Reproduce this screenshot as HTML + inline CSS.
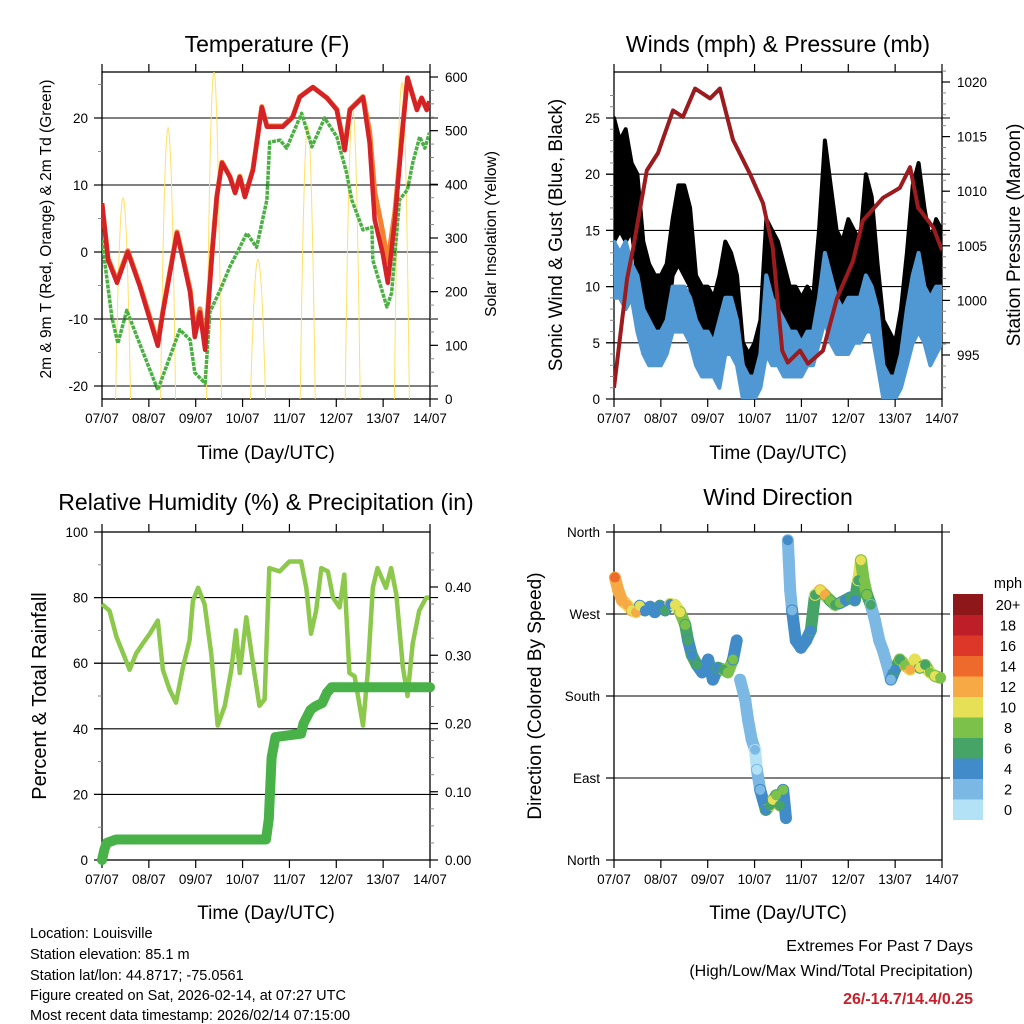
<!DOCTYPE html>
<html><head><meta charset="utf-8">
<style>
html,body{margin:0;padding:0;background:#fff}
svg{display:block}
text{font-family:"Liberation Sans",sans-serif;fill:#000}
</style></head>
<body>
<svg id="c" width="1024" height="1024" viewBox="0 0 1024 1024" xmlns="http://www.w3.org/2000/svg">
<rect width="1024" height="1024" fill="#fff"/>
<text x="267" y="52" font-size="23" text-anchor="middle">Temperature (F)</text>
<text x="778" y="52" font-size="23" text-anchor="middle">Winds (mph) &amp; Pressure (mb)</text>
<text x="266" y="510" font-size="23" text-anchor="middle">Relative Humidity (%) &amp; Precipitation (in)</text>
<text x="778" y="505" font-size="23" text-anchor="middle">Wind Direction</text>
<text x="266" y="459" font-size="19" text-anchor="middle">Time (Day/UTC)</text>
<text x="778" y="459" font-size="19" text-anchor="middle">Time (Day/UTC)</text>
<text x="266" y="919" font-size="19" text-anchor="middle">Time (Day/UTC)</text>
<text x="778" y="919" font-size="19" text-anchor="middle">Time (Day/UTC)</text>
<text transform="translate(51,229) rotate(-90)" font-size="15.5" text-anchor="middle">2m &amp; 9m T (Red, Orange) &amp; 2m Td (Green)</text>
<text transform="translate(496,234) rotate(-90)" font-size="15.5" text-anchor="middle">Solar Insolation (Yellow)</text>
<text transform="translate(562,235) rotate(-90)" font-size="19" text-anchor="middle">Sonic Wind &amp; Gust (Blue, Black)</text>
<text transform="translate(1020,235) rotate(-90)" font-size="19" text-anchor="middle">Station Pressure (Maroon)</text>
<text transform="translate(46,696) rotate(-90)" font-size="20" text-anchor="middle">Percent &amp; Total Rainfall</text>
<text transform="translate(541,696) rotate(-90)" font-size="19" text-anchor="middle">Direction (Colored By Speed)</text>
<g font-size="14.5">
<text x="30" y="938">Location: Louisville</text>
<text x="30" y="959">Station elevation: 85.1 m</text>
<text x="30" y="980">Station lat/lon: 44.8717; -75.0561</text>
<text x="30" y="1000">Figure created on Sat, 2026-02-14, at 07:27 UTC</text>
<text x="30" y="1020">Most recent data timestamp: 2026/02/14 07:15:00</text>
</g>
<text x="973" y="951" font-size="16" text-anchor="end">Extremes For Past 7 Days</text>
<text x="973" y="976" font-size="16" text-anchor="end">(High/Low/Max Wind/Total Precipitation)</text>
<text x="973" y="1004" font-size="16" font-weight="bold" text-anchor="end" style="fill:#c8202a">26/-14.7/14.4/0.25</text>
</svg>
<script>
const dayLabels=["07/07","08/07","09/07","10/07","11/07","12/07","13/07","14/07"];
const tRedDays=[0,.13,.32,.55,.81,1.19,1.30,1.60,1.73,1.88,1.98,2.09,2.20,2.35,2.45,2.56,2.73,2.84,2.94,3.05,3.22,3.41,3.52,3.86,4.07,4.22,4.50,4.80,5.01,5.18,5.29,5.57,5.71,5.82,5.99,6.10,6.25,6.42,6.52,6.72,6.82,6.93,6.99];
const tRed=[7.3,-1.2,-4.6,0,-5.2,-14,-9,2.8,-1.2,-6,-12.7,-9,-14.6,-0.2,8.2,13.3,11.2,8.8,11.2,8.2,12.2,21.6,18.7,18.7,20.1,23.1,24.6,23,21.2,15.2,21.2,23.1,16.3,4.8,-0.2,-4.6,4.8,18.7,26,21.2,23,21.2,22.5];
const tOrange=[7.3,-1.0,-4.3,0.2,-5,-13.6,-8.8,3,-1,-5.6,-12,-8.5,-13.8,0,8.3,13.4,11.3,8.9,11.3,8.3,12.3,21.7,18.8,18.8,20.2,23.2,24.6,23,21.3,15.4,21.3,23.2,18,9,3,-1.5,6,18.8,26,21.3,23,21.3,22.5];
const tDewDays=[0,.21,.34,.53,.75,1.19,1.66,1.88,1.98,2.20,2.30,2.52,2.73,2.94,3.09,3.30,3.52,3.58,3.80,3.94,4.26,4.48,4.75,5.01,5.22,5.33,5.57,5.76,5.78,6.08,6.18,6.35,6.52,6.63,6.78,6.89,6.99];
const tDew=[1.8,-9.7,-13.6,-8.7,-12.7,-20.6,-11.6,-13.1,-18,-19.6,-9,-5.7,-2.2,0.7,2.8,0.7,7.8,16.4,16.7,15.5,20.7,15.7,20,17.2,11.8,7.8,3.3,3.7,-1.2,-8.2,-6.1,7.8,9.3,13.3,17.2,15.5,17.8];
const solarPeakDays=[0.45,1.41,2.39,3.33,4.39,5.35,6.40];
const solarPeaks=[375,505,610,260,510,540,590];
const presDays=[0,.28,.41,.70,.94,1.26,1.47,1.73,2.05,2.26,2.54,2.90,3.18,3.39,3.59,3.71,3.97,4.14,4.46,4.76,5.10,5.31,5.74,6.10,6.32,6.49,6.81,7.0];
const pres=[992,1002,1004.8,1011.9,1013.5,1017.4,1016.8,1019.4,1018.5,1019.4,1014.7,1011.6,1008.9,1004.8,995.4,994.3,995.4,994.2,995.4,1000.2,1003.6,1007.3,1009.4,1010.3,1012.2,1008.5,1006.7,1004.6];
const windDays=[0,0.125,0.25,0.375,0.5,0.625,0.75,0.875,1,1.125,1.25,1.375,1.5,1.625,1.75,1.875,2,2.125,2.25,2.375,2.5,2.625,2.75,2.875,3,3.125,3.25,3.375,3.5,3.625,3.75,3.875,4,4.125,4.25,4.375,4.5,4.625,4.75,4.875,5,5.125,5.25,5.375,5.5,5.625,5.75,5.875,6,6.125,6.25,6.375,6.5,6.625,6.75,6.875,7];
const gustHi=[25,23,24,21,20,14,12,11,11,12,16,19,19,17,11,10,10,9,11,14,13,11,5,4,5,7,16,15,14,12,10,10,9,10,9,15,23,19,15,14,16,15,14,20,18,12,7,6,5,8,13,19,21,17,14,16,15];
const gustLo=[14,15,14,15,11,8,6,5,5,6,11,12,11,10,6,5,4,5,4,8,8,6,1,0,0,2,7,6,6,5,4,4,4,4,4,8,12,9,7,7,7,8,8,9,9,6,3,2,2,3,5,9,10,8,7,8,9];
const windHi=[14,13,14,12,11,8,7,6,6,7,10,10,10,9,7,6,6,5,7,9,9,7,3,2,2,4,11,9,8,7,6,6,5,6,6,9,13,11,9,8,9,9,9,11,10,8,3,2,2,4,8,11,13,10,9,10,10];
const windLo=[9,9,8,9,6,4,3,3,3,4,6,6,6,5,3,2,2,2,1,4,4,3,0,0,0,1,4,3,3,2,2,2,2,3,3,5,7,5,4,4,4,5,5,6,6,3,0,0,0,1,3,5,6,5,3,4,5];
const rhDays=[0,.16,.31,.45,.59,.73,.87,1.02,1.19,1.30,1.44,1.58,1.73,1.87,1.94,2.05,2.19,2.33,2.47,2.62,2.76,2.86,2.94,3.08,3.22,3.36,3.47,3.57,3.79,4.00,4.25,4.36,4.46,4.57,4.68,4.82,4.93,5.07,5.17,5.28,5.39,5.57,5.67,5.78,5.88,6.06,6.17,6.28,6.42,6.52,6.63,6.77,6.92,6.99];
const rh=[78,76,68,63,58,63,66,69,73,58,52,48,59,67,79,83,78,63,41,47,58,70,57,74,60,47,49,89,88,91,91,83,69,76,89,88,80,77,87,57,56,41,57,83,89,83,89,81,59,50,66,76,80,80];
const rainDays=[0,0.05,0.1,0.3,3.5,3.56,3.62,3.7,4.25,4.3,4.45,4.55,4.7,4.8,4.9,7.0];
const rain=[0,0.015,0.025,0.03,0.03,0.06,0.15,0.18,0.185,0.2,0.22,0.225,0.23,0.245,0.253,0.253];
const dirDays=[0.02,0.09,0.17,0.28,0.38,0.47,0.55,0.66,0.77,0.87,0.98,1.09,1.20,1.30,1.41,1.52,1.58,1.66,1.77,1.88,2.01,2.11,2.22,2.33,2.43,2.54,2.62,2.69,2.80,2.86,2.94,3.01,3.05,3.12,3.18,3.24,3.33,3.39,3.46,3.54,3.61,3.67,3.71,3.73,3.76,3.80,3.88,3.99,4.10,4.20,4.29,4.40,4.50,4.61,4.72,4.82,4.93,5.04,5.14,5.21,5.27,5.33,5.40,5.48,5.57,5.66,5.74,5.83,5.91,6.00,6.10,6.21,6.32,6.42,6.53,6.64,6.74,6.85,6.96];
const dirDeg=[310,296,285,280,274,272,279,274,278,272,279,274,281,280,272,258,241,225,214,206,220,198,211,209,206,220,241,198,176,154,132,121,99,77,66,55,60,66,71,60,77,46,351,329,296,274,241,233,241,252,291,296,291,285,280,282,285,288,285,307,329,307,291,280,263,241,230,214,198,209,220,214,209,220,211,214,206,202,200];
const dirSpd=[14,12,12,11,10,12,10,4,4,4,4,5,4,9,10,8,6,4,6,4,4,4,4,6,8,8,4,2,2,2,2,2,0,2,4,4,6,10,8,6,8,4,4,2,2,2,4,4,4,4,6,10,12,8,6,8,4,6,4,6,10,8,8,6,2,2,2,2,2,4,6,8,12,10,10,6,8,10,8];
const cbLabels=["0","2","4","6","8","10","12","14","16","18","20+"];
const cbColors=["#b3e2f7","#7cb8e4","#418bc8","#45a466","#7cc24a","#e5e056","#f6aa45","#ee6a2c","#dd3729","#bd1e27","#8e1719"];

const svg=document.getElementById('c');
const NS="http://www.w3.org/2000/svg";
function mk(tag,attrs,parent){const e=document.createElementNS(NS,tag);for(const k in attrs)e.setAttribute(k,attrs[k]);(parent||svg).appendChild(e);return e;}
function lin(d0,d1,r0,r1){return v=>r0+(v-d0)/(d1-d0)*(r1-r0);}
function pathFrom(xs,ys,fx,fy){return xs.map((d,i)=>(i?'L':'M')+fx(d).toFixed(1)+' '+fy(ys[i]).toFixed(1)).join('');}

function frame(name,L,R,T,B,fx,leftTicks,leftMinor,fyL,leftLab,rightTicks,rightMinor,fyR,rightLab,grid){
  const g=mk('g',{});
  
  
  grid.forEach(v=>{const y=fyL(v);mk('line',{x1:L-8,x2:R+8,y1:y,y2:y,stroke:'#000','stroke-width':1.1},g);});
  mk('rect',{x:L,y:T,width:R-L,height:B-T,fill:'none',stroke:'#000','stroke-width':1.3},g);
  for(let d=0;d<=7;d++){const x=fx(d);
    mk('line',{x1:x,x2:x,y1:B,y2:B+8,stroke:'#000','stroke-width':1.2},g);
    mk('line',{x1:x,x2:x,y1:T,y2:T-8,stroke:'#000','stroke-width':1.2},g);
    const t=mk('text',{x:x,y:B+24,'font-size':13.5,'text-anchor':'middle'},g);t.textContent=dayLabels[d];
  }
  leftMinor.forEach(v=>{const y=fyL(v);mk('line',{x1:L-4,x2:L,y1:y,y2:y,stroke:'#888','stroke-width':1},g);});
  leftTicks.forEach((v,i)=>{const y=fyL(v);mk('line',{x1:L-8,x2:L,y1:y,y2:y,stroke:'#000','stroke-width':1.2},g);
    const t=mk('text',{x:L-14,y:y+5,'font-size':13.5,'text-anchor':'end'},g);t.textContent=leftLab[i];});
  if(fyR){
    rightMinor.forEach(v=>{const y=fyR(v);mk('line',{x1:R,x2:R+4,y1:y,y2:y,stroke:'#888','stroke-width':1},g);});
    rightTicks.forEach((v,i)=>{const y=fyR(v);mk('line',{x1:R,x2:R+8,y1:y,y2:y,stroke:'#000','stroke-width':1.2},g);
      const t=mk('text',{x:R+15,y:y+5,'font-size':13.5,'text-anchor':'start'},g);t.textContent=rightLab[i];});
  }
  return g;
}
function rng(a,b,s){const r=[];for(let v=a;v<=b+1e-9;v+=s)r.push(+v.toFixed(4));return r;}

// ---- Panel 1 Temperature
{
const L=102,R=430,T=72,B=399;
const fx=lin(0,7,L,R), fy=lin(-20,20,386,118), fs=lin(0,600,399,77);
frame('temperature',L,R,T,B,fx,[-20,-10,0,10,20],rng(-20,25,5),fy,["-20","-10","0","10","20"],[0,100,200,300,400,500,600],rng(0,600,25),fs,["0","100","200","300","400","500","600"],[-20,-10,0,10,20]);
const clip=mk('clipPath',{id:'cp1'});mk('rect',{x:L,y:T,width:R-L,height:B-T},clip);
const g=mk('g',{'clip-path':'url(#cp1)'});


solarPeakDays.forEach((c,i)=>{
  let d='';const w=0.1;
  for(let k=-10;k<=10;k++){const u=k/10;const t=c+u*w*1.6;const v=solarPeaks[i]*Math.max(0,1-u*u);d+=(k>-10?'L':'M')+fx(t).toFixed(1)+' '+fs(v).toFixed(1);}
  const p=mk('path',{d:d,fill:'none',stroke:'#ffe066','stroke-width':1},g);
  
  
});
const pd=mk('path',{d:pathFrom(tDewDays,tDew,fx,fy),fill:'none',stroke:'#4bb043','stroke-width':3.5,'stroke-dasharray':'4 1','stroke-linejoin':'round'},g);


const po=mk('path',{d:pathFrom(tRedDays,tOrange,fx,fy),fill:'none',stroke:'#f4812f','stroke-width':5,'stroke-linejoin':'round'},g);


const pr=mk('path',{d:pathFrom(tRedDays,tRed,fx,fy),fill:'none',stroke:'#d42227','stroke-width':4.5,'stroke-linejoin':'round'},g);


}
// ---- Panel 2 Winds
{
const L=614,R=942,T=72,B=399;
const fx=lin(0,7,L,R), fy=lin(0,25,399,118), fp=lin(995,1020,355,82);
frame('winds',L,R,T,B,fx,[0,5,10,15,20,25],rng(0,27,1),fy,["0","5","10","15","20","25"],[995,1000,1005,1010,1015,1020],rng(992,1021,1),fp,["995","1000","1005","1010","1015","1020"],[5,10,15,20,25]);
const clip=mk('clipPath',{id:'cp2'});mk('rect',{x:L,y:T,width:R-L,height:B-T},clip);
const g=mk('g',{'clip-path':'url(#cp2)'});


function band(hi,lo,col,name){
  let d=windDays.map((t,i)=>(i?'L':'M')+fx(t).toFixed(1)+' '+fy(hi[i]).toFixed(1)).join('');
  for(let i=windDays.length-1;i>=0;i--)d+='L'+fx(windDays[i]).toFixed(1)+' '+fy(lo[i]).toFixed(1);
  const p=mk('path',{d:d+'Z',fill:col,stroke:col,'stroke-width':4,'stroke-linejoin':'round'},g);
  
  
}
band(gustHi,gustLo,'#000','gust-band');
band(windHi,windLo,'#4f98d4','wind-band');
const pp=mk('path',{d:pathFrom(presDays,pres,fx,fp),fill:'none',stroke:'#9b1b1e','stroke-width':4,'stroke-linejoin':'round'},g);


}
// ---- Panel 3 RH & precip
{
const L=102,R=430,T=532,B=860;
const fx=lin(0,7,L,R), fy=lin(0,100,860,532), fr=lin(0,0.4,860,587);
frame('humidity',L,R,T,B,fx,[0,20,40,60,80,100],rng(0,100,10),fy,["0","20","40","60","80","100"],[0,0.1,0.2,0.3,0.4],rng(0,0.47,0.025),fr,["0.00","0.10","0.20","0.30","0.40"],[20,40,60,80]);
const g=mk('g',{});


const ph=mk('path',{d:pathFrom(rhDays,rh,fx,fy),fill:'none',stroke:'#8cc84b','stroke-width':4.5,'stroke-linejoin':'round'},g);


const pr=mk('path',{d:pathFrom(rainDays,rain,fx,fr),fill:'none',stroke:'#48b248','stroke-width':10,'stroke-linejoin':'round','stroke-linecap':'round'},g);


}
// ---- Panel 4 Direction
{
const L=614,R=942,T=532,B=860;
const fx=lin(0,7,L,R), fy=lin(0,360,860,532);
frame('direction',L,R,T,B,fx,[0,90,180,270,360],[],fy,["North","East","South","West","North"],null,null,null,null,[90,180,270,360]);
const g=mk('g',{});


const col=s=>cbColors[Math.min(10,Math.max(0,Math.round(s/2)))];
for(let i=1;i<dirDays.length;i++){
  if(Math.abs(dirDeg[i]-dirDeg[i-1])>40)continue;
  const l=mk('line',{x1:fx(dirDays[i-1]),y1:fy(dirDeg[i-1]),x2:fx(dirDays[i]),y2:fy(dirDeg[i]),stroke:col(dirSpd[i]),'stroke-width':12,'stroke-linecap':'round'},g);
  
  
}
dirDays.forEach((d,i)=>{
  const c=mk('circle',{cx:fx(d),cy:fy(dirDeg[i]),r:5,fill:col(dirSpd[i])},g);
  
  
});
const cb=mk('g',{});


const h=20.5,top=594;
cbColors.forEach((c,i)=>{
  const y=top+(10-i)*h;
  const r=mk('rect',{x:953,y:y,width:30,height:h+0.5,fill:c},cb);
  
  
  const t=mk('text',{x:1008,y:y+h/2+5.5,'font-size':14.5,'text-anchor':'middle'},cb);t.textContent=cbLabels[i];
});
const mt=mk('text',{x:1008,y:588,'font-size':14.5,'text-anchor':'middle'},cb);mt.textContent='mph';
}
</script>
</body></html>
